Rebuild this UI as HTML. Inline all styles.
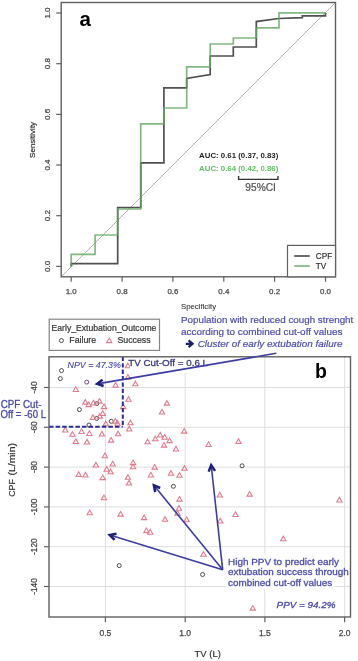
<!DOCTYPE html>
<html><head><meta charset="utf-8"><style>
html,body{margin:0;padding:0;background:#fff;}
svg{display:block;filter:blur(0.3px);font-family:"Liberation Sans",sans-serif;}
</style></head><body>
<svg width="358" height="661" viewBox="0 0 358 661">
<rect width="358" height="661" fill="#fff"/>
<line x1="61.2" y1="276.8" x2="335.5" y2="2.5" stroke="#b4b4b4" stroke-width="1"/>
<polyline points="71.2,266.4 71.2,263.7 117.7,263.7 117.7,207.5 140.8,207.5 140.8,162.8 163.9,162.8 163.9,87.8 186.7,87.8 186.7,78.4 210.2,74.6 210.2,56.0 233.3,56.0 233.3,47.0 256.3,47.0 256.3,21.6 278.6,18.5 302.3,17.7 302.3,15.8 325.5,15.8 325.5,13.0" fill="none" stroke="#505050" stroke-width="1.7" stroke-linejoin="miter"/>
<polyline points="71.2,266.4 71.2,254.3 95.1,254.3 95.1,235.0 117.7,235.0 117.7,209.0 140.7,209.0 140.7,123.8 163.9,123.8 163.9,108.0 186.7,108.0 186.7,66.8 210.2,66.8 210.2,44.0 233.3,44.0 233.3,38.0 256.3,38.0 256.3,27.9 279.0,27.9 279.0,12.8 325.5,12.8" fill="none" stroke="#60a860" stroke-opacity="0.8" stroke-width="1.7" stroke-linejoin="miter"/>
<rect x="61.2" y="2.5" width="274.3" height="274.3" fill="none" stroke="#606060" stroke-width="1.4"/>
<line x1="71.2" y1="276.8" x2="71.2" y2="281.8" stroke="#606060" stroke-width="1.2"/>
<text x="71.2" y="294.3" font-size="7.9" fill="#444" stroke="#444" stroke-width="0.25" text-anchor="middle">1.0</text>
<line x1="122.1" y1="276.8" x2="122.1" y2="281.8" stroke="#606060" stroke-width="1.2"/>
<text x="122.1" y="294.3" font-size="7.9" fill="#444" stroke="#444" stroke-width="0.25" text-anchor="middle">0.8</text>
<line x1="172.9" y1="276.8" x2="172.9" y2="281.8" stroke="#606060" stroke-width="1.2"/>
<text x="172.9" y="294.3" font-size="7.9" fill="#444" stroke="#444" stroke-width="0.25" text-anchor="middle">0.6</text>
<line x1="223.8" y1="276.8" x2="223.8" y2="281.8" stroke="#606060" stroke-width="1.2"/>
<text x="223.8" y="294.3" font-size="7.9" fill="#444" stroke="#444" stroke-width="0.25" text-anchor="middle">0.4</text>
<line x1="274.6" y1="276.8" x2="274.6" y2="281.8" stroke="#606060" stroke-width="1.2"/>
<text x="274.6" y="294.3" font-size="7.9" fill="#444" stroke="#444" stroke-width="0.25" text-anchor="middle">0.2</text>
<line x1="325.5" y1="276.8" x2="325.5" y2="281.8" stroke="#606060" stroke-width="1.2"/>
<text x="325.5" y="294.3" font-size="7.9" fill="#444" stroke="#444" stroke-width="0.25" text-anchor="middle">0.0</text>
<line x1="56.2" y1="266.4" x2="61.2" y2="266.4" stroke="#606060" stroke-width="1.2"/>
<text x="0" y="0" font-size="8.0" fill="#444" stroke="#444" stroke-width="0.25" text-anchor="middle" transform="translate(50.2,266.4) rotate(-90)">0.0</text>
<line x1="56.2" y1="215.7" x2="61.2" y2="215.7" stroke="#606060" stroke-width="1.2"/>
<text x="0" y="0" font-size="8.0" fill="#444" stroke="#444" stroke-width="0.25" text-anchor="middle" transform="translate(50.2,215.7) rotate(-90)">0.2</text>
<line x1="56.2" y1="165.0" x2="61.2" y2="165.0" stroke="#606060" stroke-width="1.2"/>
<text x="0" y="0" font-size="8.0" fill="#444" stroke="#444" stroke-width="0.25" text-anchor="middle" transform="translate(50.2,165.0) rotate(-90)">0.4</text>
<line x1="56.2" y1="114.4" x2="61.2" y2="114.4" stroke="#606060" stroke-width="1.2"/>
<text x="0" y="0" font-size="8.0" fill="#444" stroke="#444" stroke-width="0.25" text-anchor="middle" transform="translate(50.2,114.4) rotate(-90)">0.6</text>
<line x1="56.2" y1="63.7" x2="61.2" y2="63.7" stroke="#606060" stroke-width="1.2"/>
<text x="0" y="0" font-size="8.0" fill="#444" stroke="#444" stroke-width="0.25" text-anchor="middle" transform="translate(50.2,63.7) rotate(-90)">0.8</text>
<line x1="56.2" y1="13.0" x2="61.2" y2="13.0" stroke="#606060" stroke-width="1.2"/>
<text x="0" y="0" font-size="8.0" fill="#444" stroke="#444" stroke-width="0.25" text-anchor="middle" transform="translate(50.2,13.0) rotate(-90)">1.0</text>
<text x="198.5" y="308.7" font-size="7.8" fill="#333" stroke="#333" stroke-width="0.08" text-anchor="middle">Specificity</text>
<text x="0" y="0" font-size="8.0" fill="#333" stroke="#333" stroke-width="0.2" text-anchor="middle" transform="translate(35.2,139.9) rotate(-90)">Sensitivity</text>
<text x="79.4" y="26.0" font-size="20.5" fill="#000" font-weight="bold">a</text>
<text x="199.1" y="158.3" font-size="7.7" fill="#222" font-weight="bold" textLength="79.2" lengthAdjust="spacingAndGlyphs">AUC: 0.61 (0.37, 0.83)</text>
<text x="199.1" y="171.0" font-size="7.7" fill="#5cbf5c" font-weight="bold" textLength="79.2" lengthAdjust="spacingAndGlyphs">AUC: 0.64 (0.42, 0.86)</text>
<path d="M238.6,175.9 V179.4 H278.0 V175.9" fill="none" stroke="#333" stroke-width="1.4"/>
<text x="245.3" y="190.6" font-size="10.0" fill="#505050" stroke="#505050" stroke-width="0.2" textLength="30.6" lengthAdjust="spacingAndGlyphs">95%CI</text>
<rect x="287.5" y="245.4" width="48.0" height="31.4" fill="#fff" stroke="#606060" stroke-width="1.2"/>
<line x1="294.2" y1="256" x2="309.8" y2="256" stroke="#505050" stroke-width="1.7"/>
<line x1="294.2" y1="266" x2="309.8" y2="266" stroke="#60a860" stroke-opacity="0.8" stroke-width="1.7"/>
<text x="315.8" y="258.8" font-size="8.2" fill="#333" stroke="#333" stroke-width="0.2">CPF</text>
<text x="315.8" y="269.2" font-size="8.2" fill="#333" stroke="#333" stroke-width="0.2">TV</text>
<line x1="105.4" y1="356.8" x2="105.4" y2="617.0" stroke="#dedede" stroke-width="1"/>
<line x1="185.2" y1="356.8" x2="185.2" y2="617.0" stroke="#dedede" stroke-width="1"/>
<line x1="264.9" y1="356.8" x2="264.9" y2="617.0" stroke="#dedede" stroke-width="1"/>
<line x1="344.6" y1="356.8" x2="344.6" y2="617.0" stroke="#dedede" stroke-width="1"/>
<line x1="49.0" y1="387.5" x2="350.5" y2="387.5" stroke="#dedede" stroke-width="1"/>
<line x1="49.0" y1="427.3" x2="350.5" y2="427.3" stroke="#dedede" stroke-width="1"/>
<line x1="49.0" y1="467.1" x2="350.5" y2="467.1" stroke="#dedede" stroke-width="1"/>
<line x1="49.0" y1="506.9" x2="350.5" y2="506.9" stroke="#dedede" stroke-width="1"/>
<line x1="49.0" y1="546.7" x2="350.5" y2="546.7" stroke="#dedede" stroke-width="1"/>
<line x1="49.0" y1="586.5" x2="350.5" y2="586.5" stroke="#dedede" stroke-width="1"/>
<circle cx="61.5" cy="370.6" r="2.0" fill="none" stroke="#4a4a4a" stroke-width="1.0"/>
<circle cx="60.3" cy="378.6" r="2.0" fill="none" stroke="#4a4a4a" stroke-width="1.0"/>
<circle cx="86.7" cy="382.1" r="2.0" fill="none" stroke="#6e4a84" stroke-width="1.0"/>
<circle cx="79.4" cy="409.6" r="2.0" fill="none" stroke="#4a4a4a" stroke-width="1.0"/>
<circle cx="96.8" cy="403.6" r="2.0" fill="none" stroke="#4a4a4a" stroke-width="1.0"/>
<circle cx="96.7" cy="418.4" r="2.0" fill="none" stroke="#4a4a4a" stroke-width="1.0"/>
<circle cx="111.3" cy="421.3" r="2.0" fill="none" stroke="#4a4a4a" stroke-width="1.0"/>
<circle cx="89.0" cy="425.0" r="2.0" fill="none" stroke="#4a4a4a" stroke-width="1.0"/>
<circle cx="242.1" cy="465.8" r="2.0" fill="none" stroke="#4a4a4a" stroke-width="1.0"/>
<circle cx="173.4" cy="486.3" r="2.0" fill="none" stroke="#4a4a4a" stroke-width="1.0"/>
<circle cx="119.2" cy="565.6" r="2.0" fill="none" stroke="#4a4a4a" stroke-width="1.0"/>
<circle cx="202.6" cy="574.5" r="2.0" fill="none" stroke="#4a4a4a" stroke-width="1.0"/>
<polygon points="75.8,386.77 78.49,391.43 73.11,391.43" fill="none" stroke="#e07a8c" stroke-width="1.05"/>
<polygon points="115.6,382.47 118.29,387.13 112.91,387.13" fill="none" stroke="#e07a8c" stroke-width="1.05"/>
<polygon points="127.9,363.17 130.59,367.83 125.21,367.83" fill="none" stroke="#e07a8c" stroke-width="1.05"/>
<polygon points="127.9,374.47 130.59,379.13 125.21,379.13" fill="none" stroke="#e07a8c" stroke-width="1.05"/>
<polygon points="135.4,381.17 138.09,385.83 132.71,385.83" fill="none" stroke="#e07a8c" stroke-width="1.05"/>
<polygon points="128.5,396.67 131.19,401.33 125.81,401.33" fill="none" stroke="#e07a8c" stroke-width="1.05"/>
<polygon points="85.3,399.47 87.99,404.13 82.61,404.13" fill="none" stroke="#e07a8c" stroke-width="1.05"/>
<polygon points="88.6,401.97 91.29,406.63 85.91,406.63" fill="none" stroke="#e07a8c" stroke-width="1.05"/>
<polygon points="93.5,400.27 96.19,404.93 90.81,404.93" fill="none" stroke="#e07a8c" stroke-width="1.05"/>
<polygon points="99.5,398.47 102.19,403.13 96.81,403.13" fill="none" stroke="#e07a8c" stroke-width="1.05"/>
<polygon points="104.0,403.97 106.69,408.63 101.31,408.63" fill="none" stroke="#e07a8c" stroke-width="1.05"/>
<polygon points="123.2,403.97 125.89,408.63 120.51,408.63" fill="none" stroke="#e07a8c" stroke-width="1.05"/>
<polygon points="92.9,414.87 95.59,419.53 90.21,419.53" fill="none" stroke="#e07a8c" stroke-width="1.05"/>
<polygon points="99.8,413.47 102.49,418.13 97.11,418.13" fill="none" stroke="#e07a8c" stroke-width="1.05"/>
<polygon points="102.7,410.77 105.39,415.43 100.01,415.43" fill="none" stroke="#e07a8c" stroke-width="1.05"/>
<polygon points="105.8,421.17 108.49,425.83 103.11,425.83" fill="none" stroke="#e07a8c" stroke-width="1.05"/>
<polygon points="115.4,418.47 118.09,423.13 112.71,423.13" fill="none" stroke="#e07a8c" stroke-width="1.05"/>
<polygon points="117.5,420.67 120.19,425.33 114.81,425.33" fill="none" stroke="#e07a8c" stroke-width="1.05"/>
<polygon points="130.5,420.17 133.19,424.83 127.81,424.83" fill="none" stroke="#e07a8c" stroke-width="1.05"/>
<polygon points="129.2,426.37 131.89,431.03 126.51,431.03" fill="none" stroke="#e07a8c" stroke-width="1.05"/>
<polygon points="65.3,427.27 67.99,431.93 62.61,431.93" fill="none" stroke="#e07a8c" stroke-width="1.05"/>
<polygon points="72.5,431.67 75.19,436.33 69.81,436.33" fill="none" stroke="#e07a8c" stroke-width="1.05"/>
<polygon points="81.6,428.77 84.29,433.43 78.91,433.43" fill="none" stroke="#e07a8c" stroke-width="1.05"/>
<polygon points="89.4,430.77 92.09,435.43 86.71,435.43" fill="none" stroke="#e07a8c" stroke-width="1.05"/>
<polygon points="101.9,431.27 104.59,435.93 99.21,435.93" fill="none" stroke="#e07a8c" stroke-width="1.05"/>
<polygon points="118.1,431.17 120.79,435.83 115.41,435.83" fill="none" stroke="#e07a8c" stroke-width="1.05"/>
<polygon points="75.8,438.87 78.49,443.53 73.11,443.53" fill="none" stroke="#e07a8c" stroke-width="1.05"/>
<polygon points="87.0,439.37 89.69,444.03 84.31,444.03" fill="none" stroke="#e07a8c" stroke-width="1.05"/>
<polygon points="111.1,437.47 113.79,442.13 108.41,442.13" fill="none" stroke="#e07a8c" stroke-width="1.05"/>
<polygon points="104.9,453.07 107.59,457.73 102.21,457.73" fill="none" stroke="#e07a8c" stroke-width="1.05"/>
<polygon points="95.9,462.37 98.59,467.03 93.21,467.03" fill="none" stroke="#e07a8c" stroke-width="1.05"/>
<polygon points="112.7,461.27 115.39,465.93 110.01,465.93" fill="none" stroke="#e07a8c" stroke-width="1.05"/>
<polygon points="106.7,466.57 109.39,471.23 104.01,471.23" fill="none" stroke="#e07a8c" stroke-width="1.05"/>
<polygon points="110.6,469.17 113.29,473.83 107.91,473.83" fill="none" stroke="#e07a8c" stroke-width="1.05"/>
<polygon points="78.7,471.77 81.39,476.43 76.01,476.43" fill="none" stroke="#e07a8c" stroke-width="1.05"/>
<polygon points="85.4,472.37 88.09,477.03 82.71,477.03" fill="none" stroke="#e07a8c" stroke-width="1.05"/>
<polygon points="102.7,474.97 105.39,479.63 100.01,479.63" fill="none" stroke="#e07a8c" stroke-width="1.05"/>
<polygon points="104.0,495.17 106.69,499.83 101.31,499.83" fill="none" stroke="#e07a8c" stroke-width="1.05"/>
<polygon points="89.7,510.07 92.39,514.73 87.01,514.73" fill="none" stroke="#e07a8c" stroke-width="1.05"/>
<polygon points="120.6,511.47 123.29,516.13 117.91,516.13" fill="none" stroke="#e07a8c" stroke-width="1.05"/>
<polygon points="127.9,474.67 130.59,479.33 125.21,479.33" fill="none" stroke="#e07a8c" stroke-width="1.05"/>
<polygon points="129.0,480.37 131.69,485.03 126.31,485.03" fill="none" stroke="#e07a8c" stroke-width="1.05"/>
<polygon points="133.1,459.97 135.79,464.63 130.41,464.63" fill="none" stroke="#e07a8c" stroke-width="1.05"/>
<polygon points="133.1,464.07 135.79,468.73 130.41,468.73" fill="none" stroke="#e07a8c" stroke-width="1.05"/>
<polygon points="147.6,439.17 150.29,443.83 144.91,443.83" fill="none" stroke="#e07a8c" stroke-width="1.05"/>
<polygon points="155.3,436.17 157.99,440.83 152.61,440.83" fill="none" stroke="#e07a8c" stroke-width="1.05"/>
<polygon points="160.2,432.37 162.89,437.03 157.51,437.03" fill="none" stroke="#e07a8c" stroke-width="1.05"/>
<polygon points="164.7,434.67 167.39,439.33 162.01,439.33" fill="none" stroke="#e07a8c" stroke-width="1.05"/>
<polygon points="169.6,437.97 172.29,442.63 166.91,442.63" fill="none" stroke="#e07a8c" stroke-width="1.05"/>
<polygon points="164.0,442.47 166.69,447.13 161.31,447.13" fill="none" stroke="#e07a8c" stroke-width="1.05"/>
<polygon points="176.0,446.27 178.69,450.93 173.31,450.93" fill="none" stroke="#e07a8c" stroke-width="1.05"/>
<polygon points="166.9,400.47 169.59,405.13 164.21,405.13" fill="none" stroke="#e07a8c" stroke-width="1.05"/>
<polygon points="162.0,409.27 164.69,413.93 159.31,413.93" fill="none" stroke="#e07a8c" stroke-width="1.05"/>
<polygon points="184.2,428.47 186.89,433.13 181.51,433.13" fill="none" stroke="#e07a8c" stroke-width="1.05"/>
<polygon points="154.7,464.47 157.39,469.13 152.01,469.13" fill="none" stroke="#e07a8c" stroke-width="1.05"/>
<polygon points="150.9,472.27 153.59,476.93 148.21,476.93" fill="none" stroke="#e07a8c" stroke-width="1.05"/>
<polygon points="171.0,470.67 173.69,475.33 168.31,475.33" fill="none" stroke="#e07a8c" stroke-width="1.05"/>
<polygon points="179.5,472.67 182.19,477.33 176.81,477.33" fill="none" stroke="#e07a8c" stroke-width="1.05"/>
<polygon points="184.5,465.67 187.19,470.33 181.81,470.33" fill="none" stroke="#e07a8c" stroke-width="1.05"/>
<polygon points="208.6,441.77 211.29,446.43 205.91,446.43" fill="none" stroke="#e07a8c" stroke-width="1.05"/>
<polygon points="238.5,438.87 241.19,443.53 235.81,443.53" fill="none" stroke="#e07a8c" stroke-width="1.05"/>
<polygon points="219.8,492.37 222.49,497.03 217.11,497.03" fill="none" stroke="#e07a8c" stroke-width="1.05"/>
<polygon points="249.6,491.47 252.29,496.13 246.91,496.13" fill="none" stroke="#e07a8c" stroke-width="1.05"/>
<polygon points="179.5,496.47 182.19,501.13 176.81,501.13" fill="none" stroke="#e07a8c" stroke-width="1.05"/>
<polygon points="179.0,505.67 181.69,510.33 176.31,510.33" fill="none" stroke="#e07a8c" stroke-width="1.05"/>
<polygon points="177.5,510.67 180.19,515.33 174.81,515.33" fill="none" stroke="#e07a8c" stroke-width="1.05"/>
<polygon points="186.6,517.07 189.29,521.73 183.91,521.73" fill="none" stroke="#e07a8c" stroke-width="1.05"/>
<polygon points="165.0,516.67 167.69,521.33 162.31,521.33" fill="none" stroke="#e07a8c" stroke-width="1.05"/>
<polygon points="144.1,514.97 146.79,519.63 141.41,519.63" fill="none" stroke="#e07a8c" stroke-width="1.05"/>
<polygon points="146.4,527.97 149.09,532.63 143.71,532.63" fill="none" stroke="#e07a8c" stroke-width="1.05"/>
<polygon points="150.2,529.57 152.89,534.23 147.51,534.23" fill="none" stroke="#e07a8c" stroke-width="1.05"/>
<polygon points="235.5,511.77 238.19,516.43 232.81,516.43" fill="none" stroke="#e07a8c" stroke-width="1.05"/>
<polygon points="220.2,518.37 222.89,523.03 217.51,523.03" fill="none" stroke="#e07a8c" stroke-width="1.05"/>
<polygon points="203.5,551.57 206.19,556.23 200.81,556.23" fill="none" stroke="#e07a8c" stroke-width="1.05"/>
<polygon points="283.3,536.17 285.99,540.83 280.61,540.83" fill="none" stroke="#e07a8c" stroke-width="1.05"/>
<polygon points="339.4,497.27 342.09,501.93 336.71,501.93" fill="none" stroke="#e07a8c" stroke-width="1.05"/>
<polygon points="252.8,605.47 255.49,610.13 250.11,610.13" fill="none" stroke="#e07a8c" stroke-width="1.05"/>
<line x1="49.0" y1="426.8" x2="122.8" y2="426.8" stroke="#2c2c94" stroke-width="2.0" stroke-dasharray="4.5,2.1"/>
<line x1="122.8" y1="356.8" x2="122.8" y2="426.8" stroke="#2c2c94" stroke-width="2.0" stroke-dasharray="4.3,2.1"/>
<rect x="49.0" y="356.8" width="301.5" height="260.2" fill="none" stroke="#606060" stroke-width="1.4"/>
<rect x="66" y="358.2" width="55" height="11" fill="#fff"/>
<rect x="130" y="358.2" width="82" height="14.4" fill="#fff"/>
<rect x="226" y="555" width="108" height="34.5" fill="#fff"/>
<line x1="105.4" y1="617.0" x2="105.4" y2="622.3" stroke="#606060" stroke-width="1.2"/>
<text x="105.4" y="636.3" font-size="8.5" fill="#444" stroke="#444" stroke-width="0.25" text-anchor="middle">0.5</text>
<line x1="185.2" y1="617.0" x2="185.2" y2="622.3" stroke="#606060" stroke-width="1.2"/>
<text x="185.2" y="636.3" font-size="8.5" fill="#444" stroke="#444" stroke-width="0.25" text-anchor="middle">1.0</text>
<line x1="264.9" y1="617.0" x2="264.9" y2="622.3" stroke="#606060" stroke-width="1.2"/>
<text x="264.9" y="636.3" font-size="8.5" fill="#444" stroke="#444" stroke-width="0.25" text-anchor="middle">1.5</text>
<line x1="344.6" y1="617.0" x2="344.6" y2="622.3" stroke="#606060" stroke-width="1.2"/>
<text x="344.6" y="636.3" font-size="8.5" fill="#444" stroke="#444" stroke-width="0.25" text-anchor="middle">2.0</text>
<line x1="44.0" y1="387.5" x2="49.0" y2="387.5" stroke="#606060" stroke-width="1.2"/>
<text x="0" y="0" font-size="8.3" fill="#444" stroke="#444" stroke-width="0.25" text-anchor="middle" transform="translate(37.3,387.5) rotate(-90)">-40</text>
<line x1="44.0" y1="427.3" x2="49.0" y2="427.3" stroke="#606060" stroke-width="1.2"/>
<text x="0" y="0" font-size="8.3" fill="#444" stroke="#444" stroke-width="0.25" text-anchor="middle" transform="translate(37.3,427.3) rotate(-90)">-60</text>
<line x1="44.0" y1="467.1" x2="49.0" y2="467.1" stroke="#606060" stroke-width="1.2"/>
<text x="0" y="0" font-size="8.3" fill="#444" stroke="#444" stroke-width="0.25" text-anchor="middle" transform="translate(37.3,467.1) rotate(-90)">-80</text>
<line x1="44.0" y1="506.9" x2="49.0" y2="506.9" stroke="#606060" stroke-width="1.2"/>
<text x="0" y="0" font-size="8.3" fill="#444" stroke="#444" stroke-width="0.25" text-anchor="middle" transform="translate(37.3,506.9) rotate(-90)">-100</text>
<line x1="44.0" y1="546.7" x2="49.0" y2="546.7" stroke="#606060" stroke-width="1.2"/>
<text x="0" y="0" font-size="8.3" fill="#444" stroke="#444" stroke-width="0.25" text-anchor="middle" transform="translate(37.3,546.7) rotate(-90)">-120</text>
<line x1="44.0" y1="586.5" x2="49.0" y2="586.5" stroke="#606060" stroke-width="1.2"/>
<text x="0" y="0" font-size="8.3" fill="#444" stroke="#444" stroke-width="0.25" text-anchor="middle" transform="translate(37.3,586.5) rotate(-90)">-140</text>
<text x="194.6" y="657.2" font-size="9.0" fill="#333" stroke="#333" stroke-width="0.2" textLength="26.2" lengthAdjust="spacingAndGlyphs">TV (L)</text>
<text x="0" y="0" font-size="8.8" fill="#333" stroke="#333" stroke-width="0.2" textLength="17.6" lengthAdjust="spacingAndGlyphs" transform="translate(14.6,496.8) rotate(-90)">CPF</text>
<text x="0" y="0" font-size="8.8" fill="#333" stroke="#333" stroke-width="0.2" textLength="32.6" lengthAdjust="spacingAndGlyphs" transform="translate(14.6,475.6) rotate(-90)">(L/min)</text>
<text x="315.0" y="378.4" font-size="19.5" fill="#000" font-weight="bold">b</text>
<rect x="49.2" y="319.2" width="110.3" height="31.2" fill="#fff" stroke="#858585" stroke-width="1.2"/>
<text x="51.6" y="330.7" font-size="8.7" fill="#333" stroke="#333" stroke-width="0.2" textLength="104.8" lengthAdjust="spacingAndGlyphs">Early_Extubation_Outcome</text>
<circle cx="61.4" cy="340.5" r="2.0" fill="none" stroke="#4a4a4a" stroke-width="1.0"/>
<text x="69.3" y="343.3" font-size="8.8" fill="#333" stroke="#333" stroke-width="0.2">Failure</text>
<polygon points="109.2,337.97 111.89,342.63 106.51,342.63" fill="none" stroke="#e07a8c" stroke-width="1.05"/>
<text x="117.4" y="343.3" font-size="8.8" fill="#333" stroke="#333" stroke-width="0.2">Success</text>
<text x="181.0" y="323.4" font-size="9.7" fill="#4c4cac" stroke="#4c4cac" stroke-width="0.2" textLength="172.3" lengthAdjust="spacingAndGlyphs">Population with reduced cough strenght</text>
<text x="181.0" y="334.8" font-size="9.7" fill="#4c4cac" stroke="#4c4cac" stroke-width="0.2" textLength="161.4" lengthAdjust="spacingAndGlyphs">according to combined cut-off values</text>
<text x="197.7" y="346.5" font-size="9.7" fill="#4c4cac" stroke="#4c4cac" stroke-width="0.2" font-style="italic" textLength="144.8" lengthAdjust="spacingAndGlyphs">Cluster of early extubation failure</text>
<path d="M185.8,343.8 H191.2 M188.6,340.4 L192.6,343.8 L188.6,347.2" fill="none" stroke="#1c1c70" stroke-width="2.2" stroke-linecap="butt" stroke-linejoin="miter"/>
<text x="67.6" y="368.2" font-size="8.9" fill="#4646a6" stroke="#4646a6" stroke-width="0.12" font-style="italic" textLength="53.2" lengthAdjust="spacingAndGlyphs">NPV = 47.3%</text>
<text x="128.2" y="366.4" font-size="9.8" fill="#3a3a80" stroke="#3a3a80" stroke-width="0.3" textLength="79.9" lengthAdjust="spacingAndGlyphs">TV Cut-Off = 0.6 L</text>
<text x="0.8" y="407.6" font-size="10.2" fill="#4848a8" stroke="#4848a8" stroke-width="0.3" textLength="40.6" lengthAdjust="spacingAndGlyphs">CPF Cut-</text>
<text x="0.6" y="418.4" font-size="10.0" fill="#4848a8" stroke="#4848a8" stroke-width="0.3" textLength="45.4" lengthAdjust="spacingAndGlyphs">Off = -60 L</text>
<text x="228.0" y="564.6" font-size="9.8" fill="#4c4cac" stroke="#4c4cac" stroke-width="0.3" textLength="111.0" lengthAdjust="spacingAndGlyphs">High PPV to predict early</text>
<text x="228.0" y="575.0" font-size="9.8" fill="#4c4cac" stroke="#4c4cac" stroke-width="0.3" textLength="120.8" lengthAdjust="spacingAndGlyphs">extubation success through</text>
<text x="228.0" y="586.0" font-size="9.8" fill="#4c4cac" stroke="#4c4cac" stroke-width="0.3" textLength="104.2" lengthAdjust="spacingAndGlyphs">combined cut-off values</text>
<text x="276.6" y="607.8" font-size="9.3" fill="#4848a8" stroke="#4848a8" stroke-width="0.3" font-style="italic" textLength="58.8" lengthAdjust="spacingAndGlyphs">PPV = 94.2%</text>
<line x1="276.3" y1="353.3" x2="97.12" y2="383.85" stroke="#3c3ca2" stroke-width="1.6"/>
<polyline points="103.62,386.00 97.12,383.85 102.54,379.67" fill="none" stroke="#1e1e7e" stroke-width="2.5" stroke-linejoin="miter" stroke-miterlimit="10" stroke-linecap="butt"/>
<line x1="222.7" y1="569.8" x2="211.19" y2="465.25" stroke="#3c3ca2" stroke-width="1.6"/>
<polyline points="208.66,471.60 211.19,465.25 215.04,470.90" fill="none" stroke="#1e1e7e" stroke-width="2.5" stroke-linejoin="miter" stroke-miterlimit="10" stroke-linecap="butt"/>
<line x1="222.7" y1="569.8" x2="153.88" y2="485.36" stroke="#3c3ca2" stroke-width="1.6"/>
<polyline points="155.21,492.07 153.88,485.36 160.18,488.02" fill="none" stroke="#1e1e7e" stroke-width="2.5" stroke-linejoin="miter" stroke-miterlimit="10" stroke-linecap="butt"/>
<line x1="222.7" y1="569.8" x2="109.75" y2="535.08" stroke="#3c3ca2" stroke-width="1.6"/>
<polyline points="114.57,539.92 109.75,535.08 116.46,533.79" fill="none" stroke="#1e1e7e" stroke-width="2.5" stroke-linejoin="miter" stroke-miterlimit="10" stroke-linecap="butt"/>
</svg>
</body></html>
